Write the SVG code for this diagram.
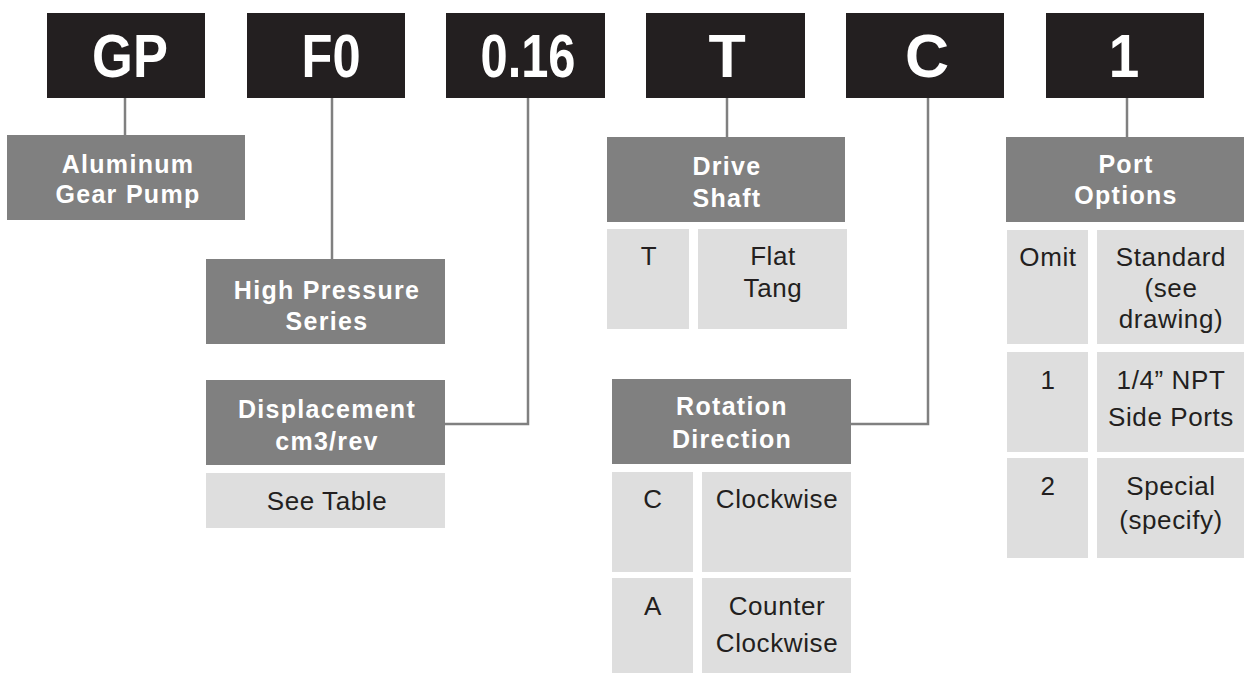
<svg xmlns="http://www.w3.org/2000/svg" width="1244" height="673" viewBox="0 0 1244 673">
<style>
.code{fill:#231f20}
.hdr{fill:#808080}
.cell{fill:#dedede}
.ct{font-family:"Liberation Sans",Arial,sans-serif;font-weight:bold;font-size:61px;fill:#fff;text-anchor:middle}
.ht{font-family:"Liberation Sans",Arial,sans-serif;font-weight:bold;font-size:25px;letter-spacing:1.3px;fill:#fff;text-anchor:middle}
.tt{font-family:"Liberation Sans",Arial,sans-serif;font-size:26px;letter-spacing:0.6px;fill:#231f20;text-anchor:middle}
.ln{fill:none;stroke:#808080;stroke-width:2.5}
</style>
<rect width="1244" height="673" fill="#fff"/>
<g id="connectors">
<path class="ln" d="M125 98V135"/>
<path class="ln" d="M332 98V259"/>
<path class="ln" d="M528 98V424H445"/>
<path class="ln" d="M727 98V137"/>
<path class="ln" d="M928 98V424H851"/>
<path class="ln" d="M1127 98V137"/>
</g>
<g id="code-GP"><rect class="code" x="47" y="13" width="158" height="85"/><text class="ct" transform="translate(130,77) scale(0.86,1)">GP</text></g>
<g id="code-F0"><rect class="code" x="247" y="13" width="158" height="85"/><text class="ct" transform="translate(331,77) scale(0.83,1)">F0</text></g>
<g id="code-016"><rect class="code" x="446" y="13" width="159" height="85"/><text class="ct" transform="translate(528,77) scale(0.8,1)">0.16</text></g>
<g id="code-T"><rect class="code" x="646" y="13" width="159" height="85"/><text class="ct" transform="translate(727,77) scale(1,1)">T</text></g>
<g id="code-C"><rect class="code" x="846" y="13" width="158" height="85"/><text class="ct" transform="translate(927,77) scale(1,1)">C</text></g>
<g id="code-1"><rect class="code" x="1046" y="13" width="158" height="85"/><text class="ct" transform="translate(1124,77) scale(0.9,1)">1</text></g>

<g id="hdr-aluminum"><rect class="hdr" x="7" y="135" width="238" height="85"/><text class="ht" x="128" y="173">Aluminum</text><text class="ht" x="128" y="203">Gear Pump</text></g>
<g id="hdr-series"><rect class="hdr" x="206" y="259" width="239" height="85"/><text class="ht" x="327" y="299">High Pressure</text><text class="ht" x="327" y="330">Series</text></g>
<g id="hdr-displacement"><rect class="hdr" x="206" y="380" width="239" height="85"/><text class="ht" x="327" y="418">Displacement</text><text class="ht" x="327" y="450">cm3/rev</text></g>
<g id="cell-seetable"><rect class="cell" x="206" y="473" width="239" height="55"/><text class="tt" x="327" y="510">See Table</text></g>

<g id="hdr-driveshaft"><rect class="hdr" x="607" y="137" width="238" height="85"/><text class="ht" x="727" y="175">Drive</text><text class="ht" x="727" y="207">Shaft</text></g>
<g id="drive-row-T"><rect class="cell" x="607" y="229" width="82" height="100"/><text class="tt" x="649" y="265">T</text><rect class="cell" x="698" y="229" width="149" height="100"/><text class="tt" x="773" y="265">Flat</text><text class="tt" x="773" y="297">Tang</text></g>

<g id="hdr-rotation"><rect class="hdr" x="612" y="379" width="239" height="85"/><text class="ht" x="732" y="415">Rotation</text><text class="ht" x="732" y="448">Direction</text></g>
<g id="rot-row-C"><rect class="cell" x="612" y="472" width="81" height="100"/><text class="tt" x="653" y="508">C</text><rect class="cell" x="702" y="472" width="149" height="100"/><text class="tt" x="777" y="508">Clockwise</text></g>
<g id="rot-row-A"><rect class="cell" x="612" y="578" width="81" height="95"/><text class="tt" x="653" y="615">A</text><rect class="cell" x="702" y="578" width="149" height="95"/><text class="tt" x="777" y="615">Counter</text><text class="tt" x="777" y="652">Clockwise</text></g>

<g id="hdr-port"><rect class="hdr" x="1006" y="137" width="238" height="85"/><text class="ht" x="1126" y="173">Port</text><text class="ht" x="1126" y="204">Options</text></g>
<g id="port-row-omit"><rect class="cell" x="1007" y="230" width="81" height="114"/><text class="tt" x="1048" y="266">Omit</text><rect class="cell" x="1097" y="230" width="147" height="114"/><text class="tt" x="1171" y="266">Standard</text><text class="tt" x="1171" y="297">(see</text><text class="tt" x="1171" y="328">drawing)</text></g>
<g id="port-row-1"><rect class="cell" x="1007" y="352" width="81" height="100"/><text class="tt" x="1048" y="389">1</text><rect class="cell" x="1097" y="352" width="147" height="100"/><text class="tt" x="1171" y="389">1/4” NPT</text><text class="tt" x="1171" y="426">Side Ports</text></g>
<g id="port-row-2"><rect class="cell" x="1007" y="458" width="81" height="100"/><text class="tt" x="1048" y="495">2</text><rect class="cell" x="1097" y="458" width="147" height="100"/><text class="tt" x="1171" y="495">Special</text><text class="tt" x="1171" y="529">(specify)</text></g>
</svg>
